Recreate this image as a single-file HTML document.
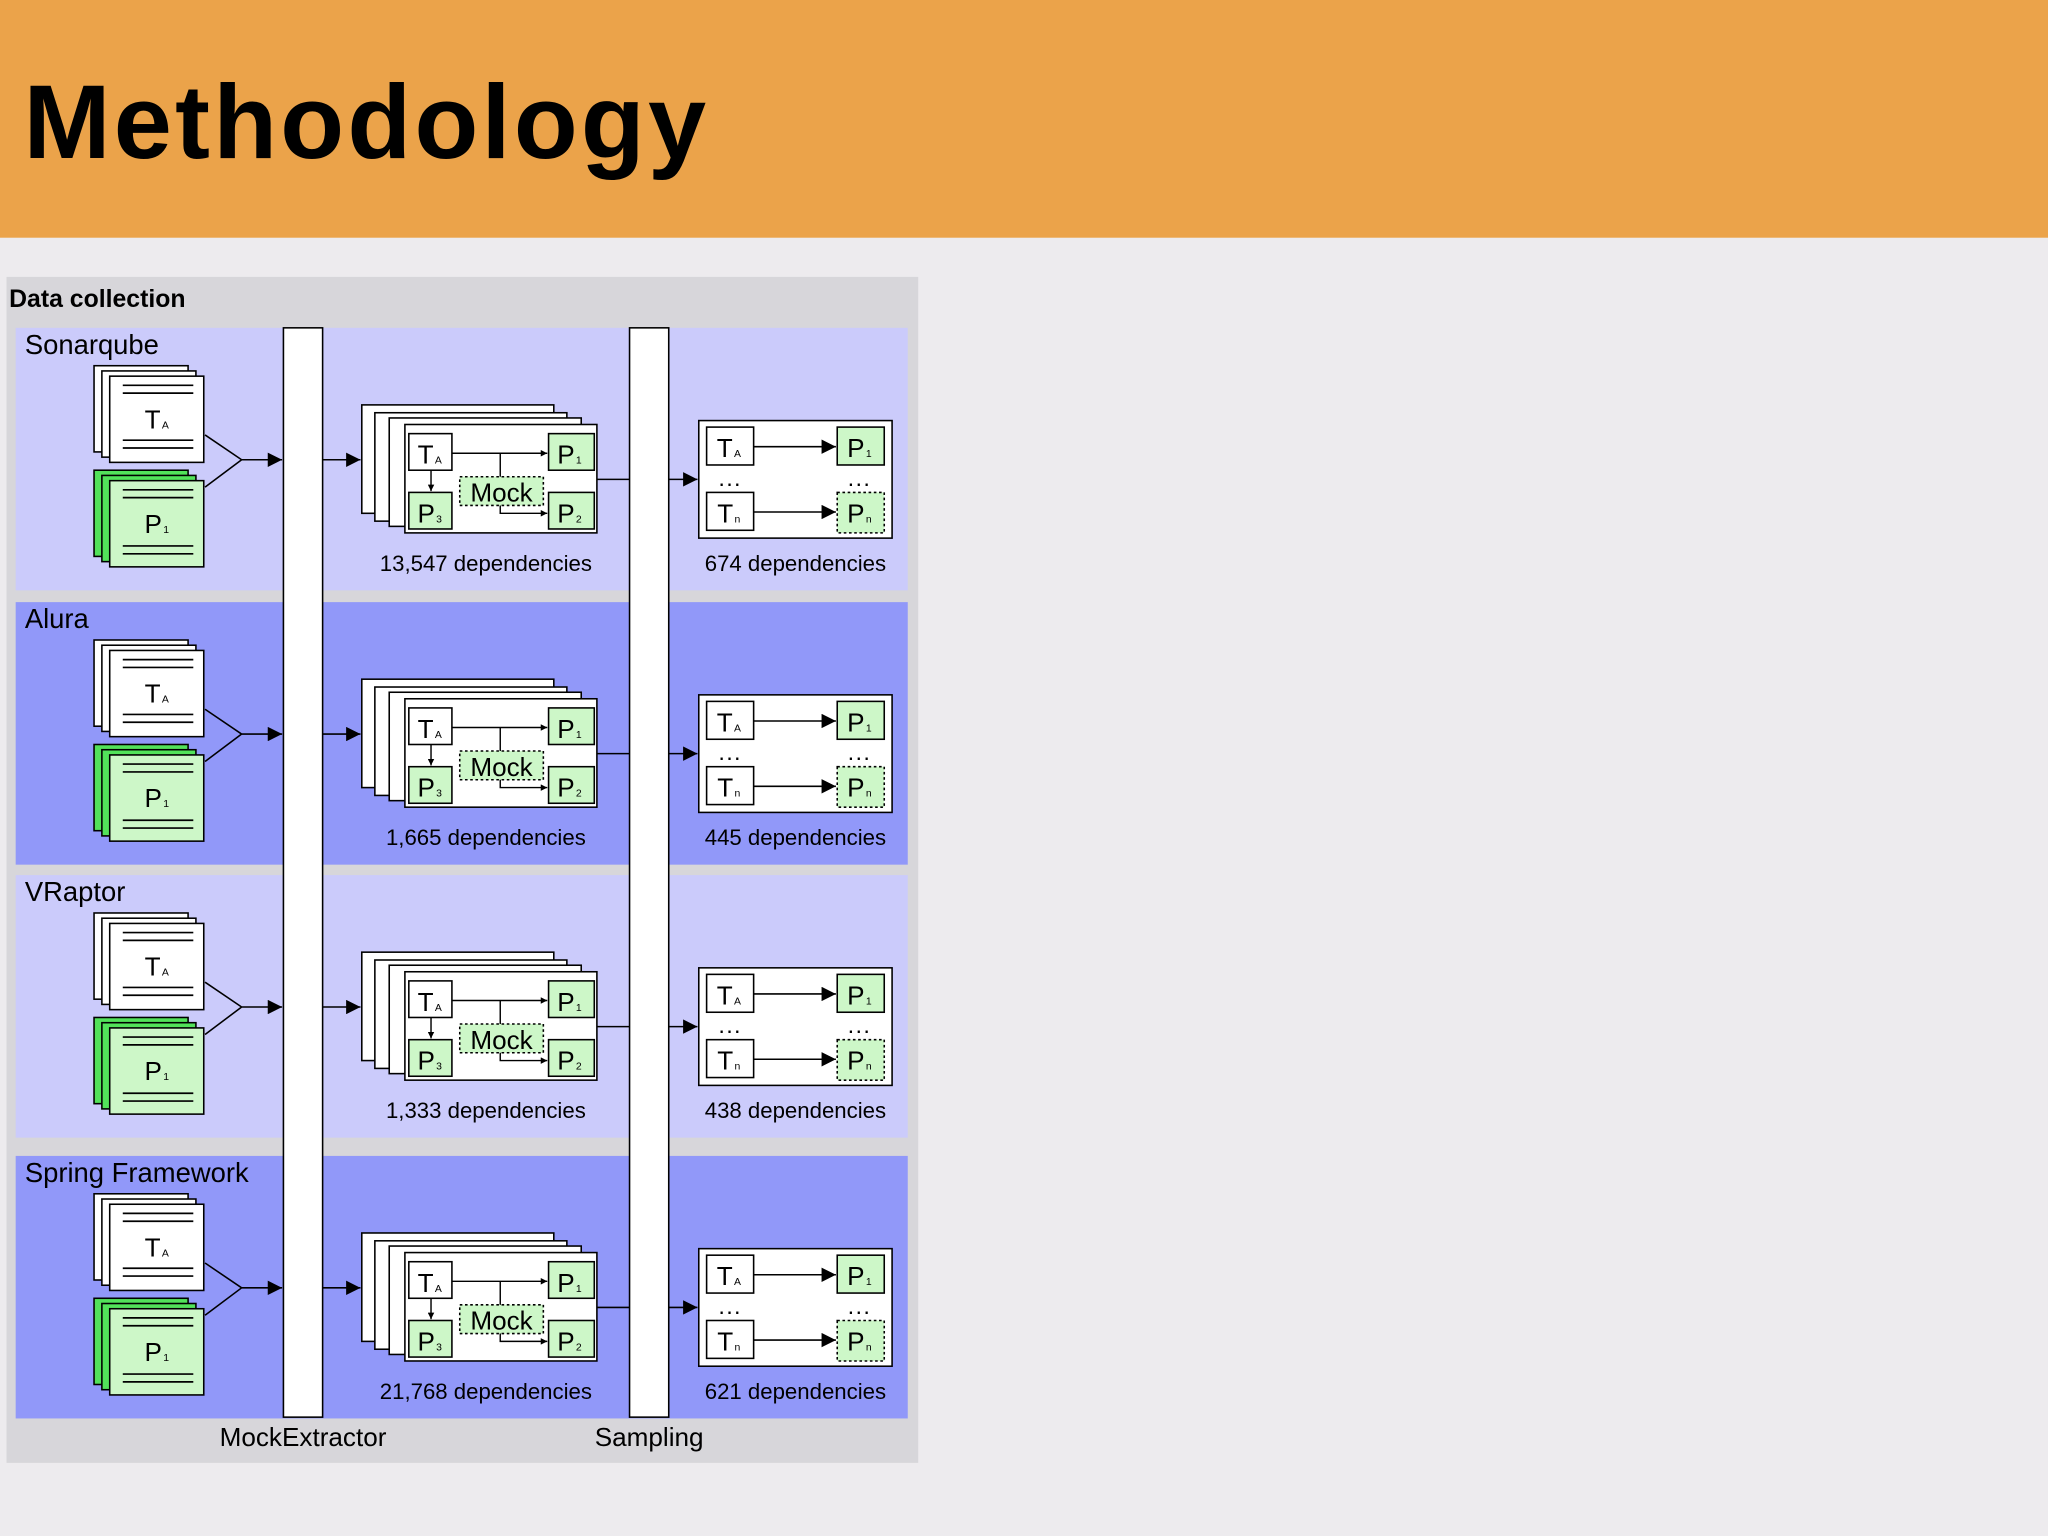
<!DOCTYPE html>
<html><head><meta charset="utf-8"><style>
html,body{margin:0;padding:0;width:2048px;height:1536px;overflow:hidden;background:#EDEBEE}
svg{display:block}
text{font-family:"Liberation Sans",sans-serif}
</style></head><body>
<svg id="s" width="2048" height="1536" viewBox="0 0 1568 1176" xmlns="http://www.w3.org/2000/svg">
<defs>
<marker id="ah" viewBox="0 0 10 10" refX="10" refY="5" markerWidth="5" markerHeight="5" orient="auto" markerUnits="userSpaceOnUse"><path d="M0,0L10,5L0,10z" fill="#000"/></marker>
<marker id="ab" viewBox="0 0 10 10" refX="10" refY="5" markerWidth="13" markerHeight="11" orient="auto" markerUnits="userSpaceOnUse"><path d="M0,0L10,5L0,10z" fill="#000"/></marker>
</defs>
<rect x="0" y="0" width="1568" height="182" fill="#EBA34A"/>
<text x="18" y="121" font-size="80" font-weight="bold" fill="#000" letter-spacing="2.5">Methodology</text>
<rect x="5" y="212" width="698" height="908" fill="#D7D6DA"/>
<text x="7" y="235" font-size="19" font-weight="bold">Data collection</text>
<g id="rows"></g>
<rect x="217" y="251" width="30" height="834" fill="#fff" stroke="#000" stroke-width="1.2"/>
<rect x="482" y="251" width="30" height="834" fill="#fff" stroke="#000" stroke-width="1.2"/>
<text x="232" y="1107" font-size="20" text-anchor="middle">MockExtractor</text>
<text x="497" y="1107" font-size="20" text-anchor="middle">Sampling</text>
</svg>
<script>
var rows=[["Sonarqube","#CBCBFB","13,547 dependencies","674 dependencies",0],
["Alura","#9198F9","1,665 dependencies","445 dependencies",210],
["VRaptor","#CBCBFB","1,333 dependencies","438 dependencies",419],
["Spring Framework","#9198F9","21,768 dependencies","621 dependencies",634]];
function lbl(x,y,m,s){return '<text x="'+x+'" y="'+y+'" font-size="20" text-anchor="middle">'+m+'<tspan font-size="8" dx="1">'+s+'</tspan></text>';}
var h='';
rows.forEach(function(r){
var g='<g transform="translate(0,'+r[4]+')">';
g+='<rect x="12" y="251" width="683" height="201" fill="'+r[1]+'"/>';
g+='<text x="19" y="271" font-size="21">'+r[0]+'</text>';
[[72,280],[78,284],[84,288]].forEach(function(p){g+='<rect x="'+p[0]+'" y="'+p[1]+'" width="72" height="66" fill="#fff" stroke="#000" stroke-width="1.2"/>';});
g+='<path d="M94,295H148M94,301H148M94,337H148M94,343H148" stroke="#000" stroke-width="1.3"/>';
g+=lbl(120,328,'T','A');
[[72,360,'#52E25A'],[78,364,'#52E25A'],[84,368,'#CDF7C8']].forEach(function(p){g+='<rect x="'+p[0]+'" y="'+p[1]+'" width="72" height="66" fill="'+p[2]+'" stroke="#000" stroke-width="1.2"/>';});
g+='<path d="M94,375H148M94,381H148M94,418H148M94,424H148" stroke="#000" stroke-width="1.3"/>';
g+=lbl(120,408,'P','1');
g+='<path d="M157,333L185,352L157,373M185,352H216" fill="none" stroke="#000" stroke-width="1.2" marker-end="url(#ab)"/>';
g+='<path d="M247,352H276" stroke="#000" stroke-width="1.2" marker-end="url(#ab)"/>';
[[277,310],[287,316],[298,320],[310,325]].forEach(function(p){g+='<rect x="'+p[0]+'" y="'+p[1]+'" width="147" height="83" fill="#fff" stroke="#000" stroke-width="1.2"/>';});
g+='<rect x="313" y="332" width="33" height="28" fill="#fff" stroke="#000" stroke-width="1.2"/>'+lbl(329,355,'T','A');
g+='<rect x="420" y="332" width="35" height="28" fill="#CDF7C8" stroke="#000" stroke-width="1.2"/>'+lbl(436,355,'P','1');
g+='<rect x="313" y="377" width="33" height="28" fill="#CDF7C8" stroke="#000" stroke-width="1.2"/>'+lbl(329,400,'P','3');
g+='<rect x="420" y="377" width="35" height="28" fill="#CDF7C8" stroke="#000" stroke-width="1.2"/>'+lbl(436,400,'P','2');
g+='<rect x="352" y="365" width="64" height="22" fill="#CDF7C8" stroke="#000" stroke-width="1.2" stroke-dasharray="2,2"/>';
g+='<text x="384" y="384" font-size="20" text-anchor="middle">Mock</text>';
g+='<path d="M346,347H419" stroke="#000" stroke-width="1.1" marker-end="url(#ah)"/>';
g+='<path d="M383,347V365" stroke="#000" stroke-width="1.1"/>';
g+='<path d="M330,360V376" stroke="#000" stroke-width="1.1" marker-end="url(#ah)"/>';
g+='<path d="M383,387V393H419" fill="none" stroke="#000" stroke-width="1.1" marker-end="url(#ah)"/>';
g+='<path d="M457,367H482" stroke="#000" stroke-width="1.2"/>';
g+='<path d="M512,367H534" stroke="#000" stroke-width="1.2" marker-end="url(#ab)"/>';
g+='<rect x="535" y="322" width="148" height="90" fill="#fff" stroke="#000" stroke-width="1.2"/>';
g+='<rect x="541" y="327" width="36" height="29" fill="#fff" stroke="#000" stroke-width="1.2"/>'+lbl(558,350,'T','A');
g+='<rect x="641" y="327" width="36" height="29" fill="#CDF7C8" stroke="#000" stroke-width="1.2"/>'+lbl(658,350,'P','1');
g+='<rect x="541" y="377" width="36" height="29" fill="#fff" stroke="#000" stroke-width="1.2"/>'+lbl(558,400,'T','n');
g+='<rect x="641" y="377" width="36" height="31" fill="#CDF7C8" stroke="#000" stroke-width="1.2" stroke-dasharray="2,2"/>'+lbl(658,400,'P','n');
g+='<path d="M577,342H640" stroke="#000" stroke-width="1.2" marker-end="url(#ab)"/>';
g+='<path d="M577,392H640" stroke="#000" stroke-width="1.2" marker-end="url(#ab)"/>';
g+='<text x="559" y="372" font-size="18" text-anchor="middle" letter-spacing="1">...</text><text x="658" y="372" font-size="18" text-anchor="middle" letter-spacing="1">...</text>';
g+='<text x="372" y="437" font-size="17" text-anchor="middle">'+r[2]+'</text>';
g+='<text x="609" y="437" font-size="17" text-anchor="middle">'+r[3]+'</text>';
g+='</g>';h+=g;});
document.getElementById('rows').innerHTML=h;
</script>
</body></html>
